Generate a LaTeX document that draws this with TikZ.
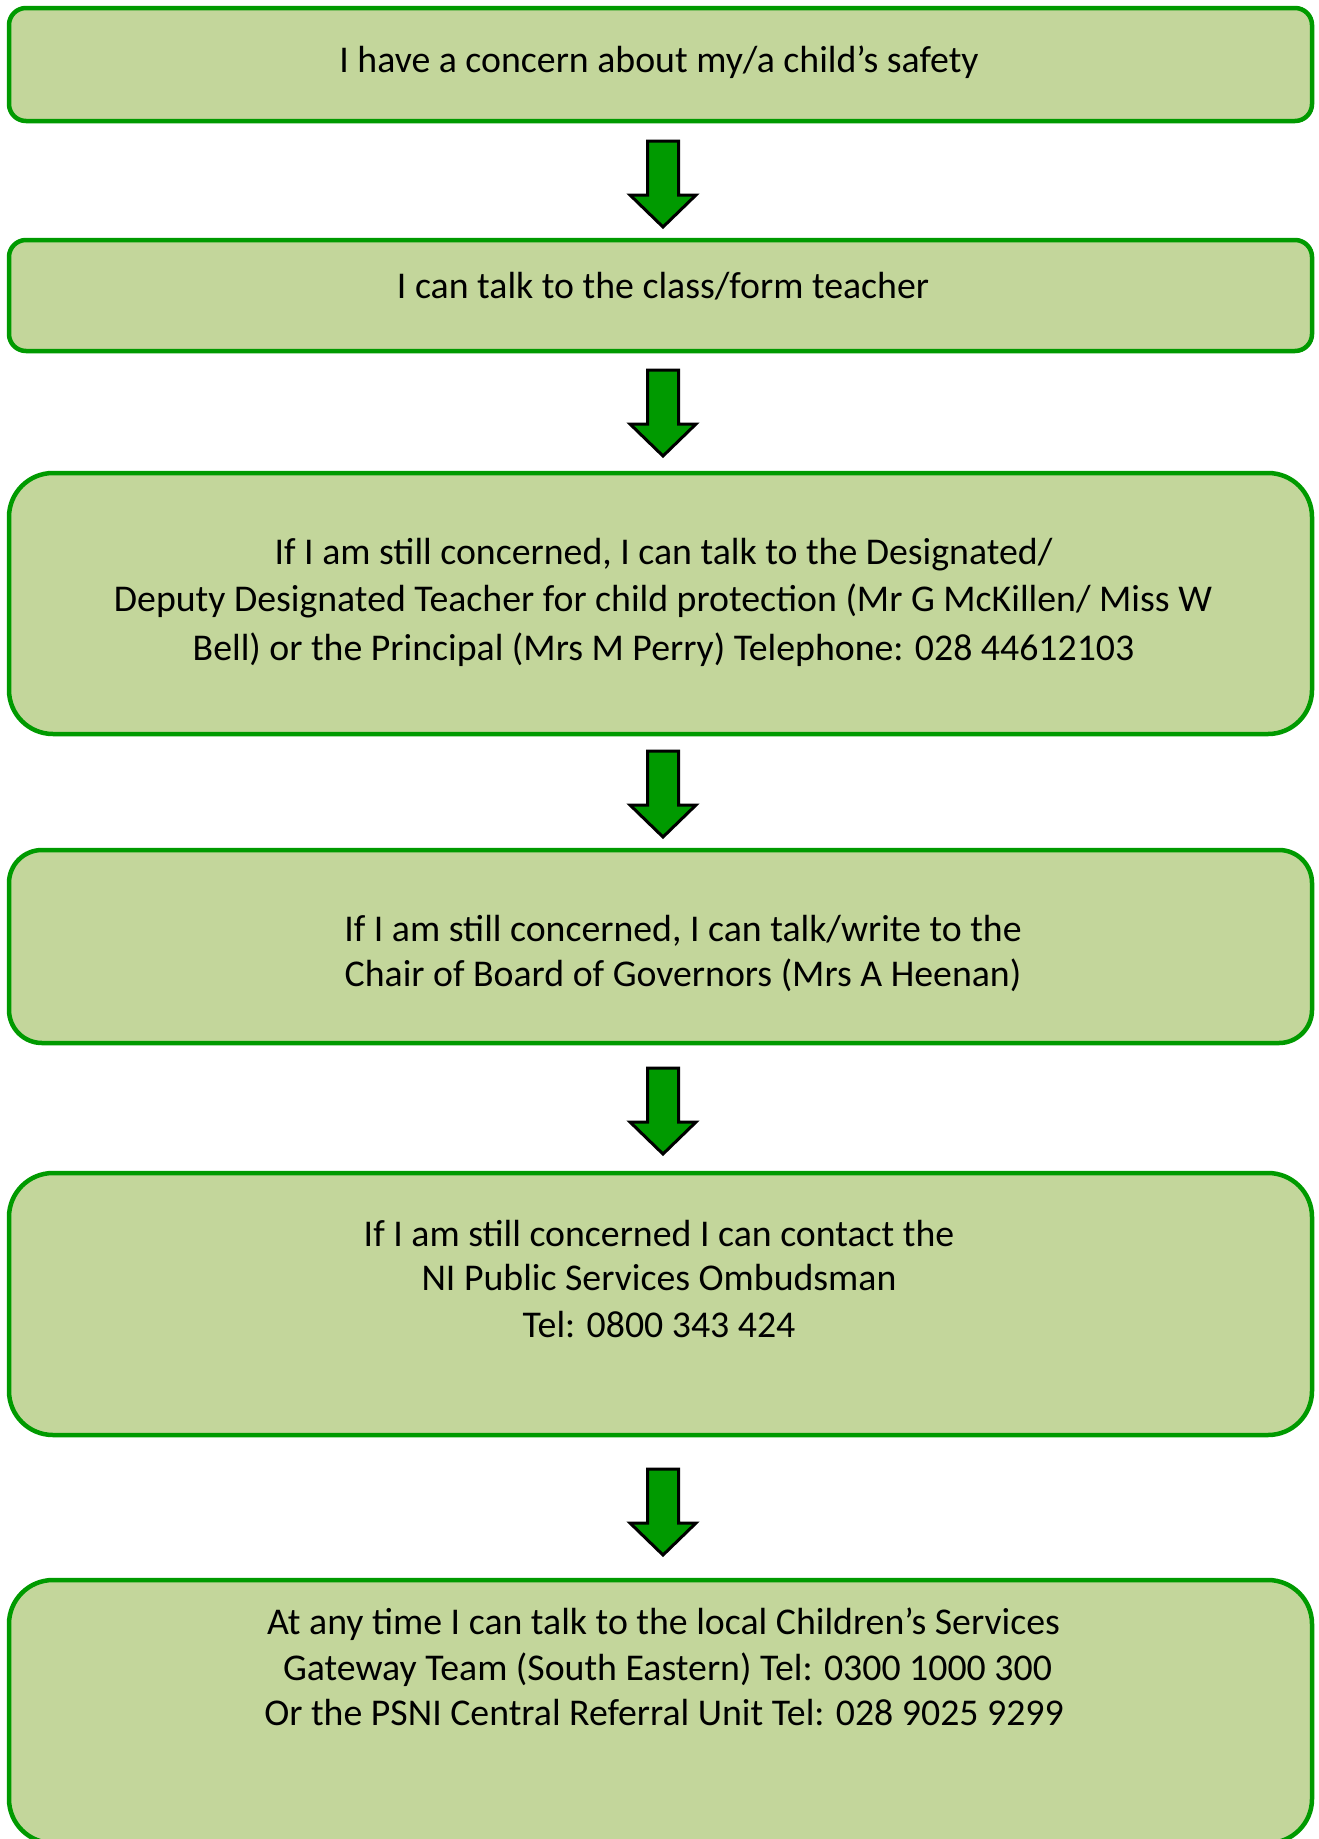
\documentclass[tikz,border=0pt]{standalone}
\usepackage{fontspec}
\setmainfont{Carlito}
\definecolor{boxgreen}{HTML}{009A00}
\definecolor{boxfill}{HTML}{C3D69B}
\definecolor{arrowgreen}{HTML}{009A00}
\begin{document}
\begin{tikzpicture}[x=1pt,y=-1pt,
  box/.style={draw=boxgreen, line width=4.5pt, fill=boxfill, rounded corners=#1,
    rectangle, inner sep=0pt, outer sep=0pt, minimum width=1303pt},
  txt/.style={anchor=base, inner sep=0pt, font=\fontsize{37.8}{46}\selectfont},
  downarr/.pic={\draw[draw=black, line width=3pt, fill=arrowgreen, line join=miter]
    (-15.5,0) -- (15.5,0) -- (15.5,54) -- (33,54) -- (0,86) -- (-33,54) -- (-15.5,54) -- cycle;}
]
\useasboundingbox (0,0) rectangle (1319,1839);
\clip (0,0) rectangle (1319,1839);

% boxes
\node[box=17pt, minimum height=113pt] (b1) at (660.5,64.5) {};
\node[box=17pt, minimum height=111pt] (b2) at (660.5,295.5) {};
\node[box=44pt, minimum height=261pt] (b3) at (660.5,603.5) {};
\node[box=33pt, minimum height=193pt] (b4) at (660.5,946.5) {};
\node[box=44pt, minimum height=262pt] (b5) at (660.5,1304) {};
\node[box=44pt, minimum height=263pt] (b6) at (660.5,1711.5) {};

% arrows between boxes
\pic at ([shift={(2.5,20)}]b1.south) {downarr};
\pic at ([shift={(2.5,19)}]b2.south) {downarr};
\pic at ([shift={(2.5,17)}]b3.south) {downarr};
\pic at ([shift={(2.5,25)}]b4.south) {downarr};
\pic at ([shift={(2.5,34)}]b5.south) {downarr};

% texts
\node[txt] (t1) at (659,72) {I have a concern about my/a child’s safety};
\node[txt] (t2) at (663,298) {I can talk to the class/form teacher};
\node[txt] (t3a) at (663.5,564) {If I am still concerned, I can talk to the Designated/};
\node[txt] (t3b) at (663,611) {Deputy Designated Teacher for child protection (Mr G McKillen/ Miss W};
\node[txt] (t3c) at (663.5,660) {Bell) or the Principal (Mrs M Perry) Telephone: 028 44612103};
\node[txt] (t4a) at (683,941) {If I am still concerned, I can talk/write to the};
\node[txt] (t4b) at (683,986) {Chair of Board of Governors (Mrs A Heenan)};
\node[txt] (t5a) at (659,1246) {If I am still concerned I can contact the};
\node[txt] (t5b) at (659,1290) {NI Public Services Ombudsman};
\node[txt] (t5c) at (659,1337) {Tel: 0800 343 424};
\node[txt] (t6a) at (663.5,1634) {At any time I can talk to the local Children’s Services};
\node[txt] (t6b) at (667.5,1680) {Gateway Team (South Eastern) Tel: 0300 1000 300};
\node[txt] (t6c) at (664,1725) {Or the PSNI Central Referral Unit Tel: 028 9025 9299};
\end{tikzpicture}
\end{document}
